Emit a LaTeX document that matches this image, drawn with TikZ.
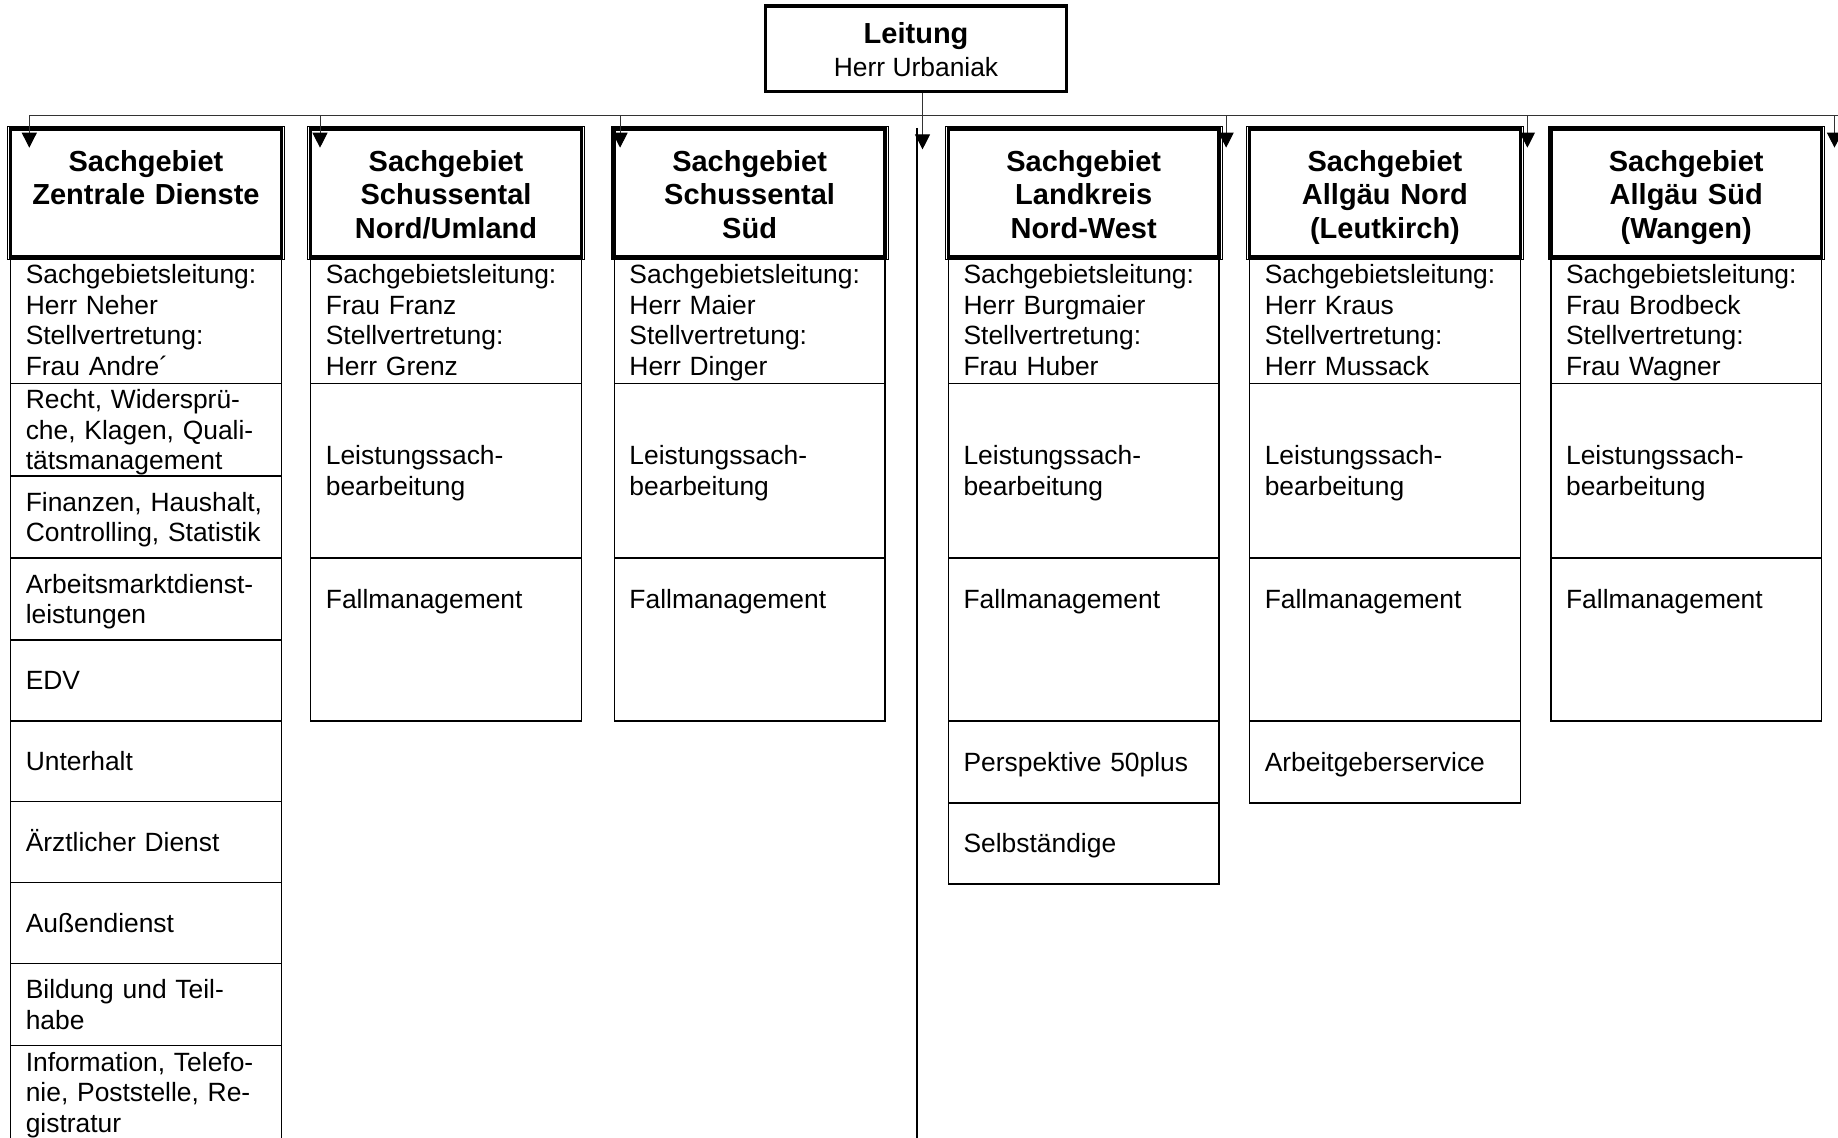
\documentclass[tikz,border=0pt]{standalone}
\usepackage{fontspec}
\setmainfont{Liberation Sans}
\usetikzlibrary{arrows.meta,positioning}
\newdimen\dpx \dpx=0.586pt

\tikzset{
  kopf/.style={draw, line width=1.8pt, outer sep=0pt, inner sep=0pt, text width=231\dpx,
    minimum height=109\dpx, align=center, anchor=north west,
    execute at begin node={\rule{0pt}{15.6pt}}, execute at end node={\rule[-3.5pt]{0pt}{3.5pt}},
    font=\bfseries\fontsize{14.5}{16.7}\selectfont},
  zelle/.style={draw, line width=0.7pt, outer sep=0pt, inner xsep=13\dpx, inner ysep=0pt,
    text width=205\dpx, minimum height=#1\dpx, align=left,
    execute at begin node={\rule{0pt}{12.4pt}}, execute at end node={\rule[-3pt]{0pt}{3pt}},
    font=\fontsize{13.2}{15.25}\selectfont},
  pfeil/.style={draw=black!80, line width=0.5pt, -{Triangle[length=7.5pt,width=7.5pt,color=black]}},
  bus/.style={draw=black!80, line width=0.5pt}
}

\begin{document}
\begin{tikzpicture}[x=0.586pt, y=-0.586pt]
\useasboundingbox (0,0) rectangle (1568,970);

\node[draw, line width=1.7pt, minimum width=257\dpx, minimum height=73\dpx, align=center,
  font=\fontsize{13.2}{16.4}\selectfont] (leitung) at (781.5,41.5)
  {{\bfseries\fontsize{14.5}{16.4}\selectfont\rule{0pt}{14.5pt}Leitung}\\Herr Urbaniak\rule[-3.5pt]{0pt}{3.5pt}};

% Sachgebiete
\node[kopf] (k1) at (9,110) {Sachgebiet\\Zentrale Dienste\\\mbox{}};
\node[kopf] (k2) at (265,110) {Sachgebiet\\Schussental\\Nord/Umland};
\node[kopf] (k3) at (524,110) {Sachgebiet\\Schussental\\Süd};
\node[kopf] (k4) at (809,110) {Sachgebiet\\Landkreis\\Nord-West};
\node[kopf] (k5) at (1066,110) {Sachgebiet\\Allgäu Nord\\(Leutkirch)};
\node[kopf] (k6) at (1323,110) {Sachgebiet\\Allgäu Süd\\(Wangen)};
\foreach \i in {1,...,6}
  \draw[line width=0.4pt] ([shift={(-2.5,-2.5)}]k\i.north west) rectangle ([shift={(2.5,2.5)}]k\i.south east);

% Zentrale Dienste
\node[zelle=108, below=0pt of k1] (z1) {Sachgebietsleitung:\\Herr Neher\\Stellvertretung:\\Frau Andre´};
\node[zelle=79, below=0pt of z1] (z2) {Recht, Widersprü-\\che, Klagen, Quali-\\tätsmanagement};
\node[zelle=70, below=0pt of z2] (z3) {Finanzen, Haushalt,\\Controlling, Statistik};
\node[zelle=70, below=0pt of z3] (z4) {Arbeitsmarktdienst-\\leistungen};
\node[zelle=69, below=0pt of z4] (z5) {EDV};
\node[zelle=69, below=0pt of z5] (z6) {Unterhalt};
\node[zelle=69, below=0pt of z6] (z7) {Ärztlicher Dienst};
\node[zelle=69, below=0pt of z7] (z8) {Außendienst};
\node[zelle=70, below=0pt of z8] (z9) {Bildung und Teil-\\habe};
\node[zelle=80, below=0pt of z9] (z10) {Information, Telefo-\\nie, Poststelle, Re-\\gistratur};

% die anderen Sachgebiete
\foreach \i/\sgl/\stv in {2/Frau Franz/Herr Grenz, 3/Herr Maier/Herr Dinger,
    4/Herr Burgmaier/Frau Huber, 5/Herr Kraus/Herr Mussack, 6/Frau Brodbeck/Frau Wagner}{
  \node[zelle=108, below=0pt of k\i] (l\i) {Sachgebietsleitung:\\\sgl\\Stellvertretung:\\\stv};
  \node[zelle=149, below=0pt of l\i] (b\i) {Leistungssach-\\bearbeitung};
  \node[zelle=139, below=0pt of b\i, text height=12pt, text depth=42.8pt] (f\i) {Fallmanagement};
}
\node[zelle=70, below=0pt of f4] (p4) {Perspektive 50plus};
\node[zelle=69, below=0pt of p4] (s4) {Selbständige};
\node[zelle=70, below=0pt of f5] (a5) {Arbeitgeberservice};

% Verbindungen
\coordinate (bus) at ([shift={(0,19)}]leitung.south);
\coordinate (mitte) at ([shift={(5.5,48)}]leitung.south);
\foreach \i/\dx in {1/16, 2/8, 3/5}
  \coordinate (t\i) at ([shift={(\dx,16)}]k\i.north west);
\foreach \i/\dx in {4/6, 5/6, 6/11}
  \coordinate (t\i) at ([shift={(\dx,16)}]k\i.north east);
\draw[bus] (t1 |- bus) -- (t6 |- bus) -- ++(10,0);
\foreach \i in {1,...,6}
  \draw[pfeil] (t\i |- bus) -- (t\i);
\draw[pfeil] (leitung.south -| mitte) -- (mitte);
\draw[line width=0.9pt] ([shift={(-27,-1)}]k4.north west) -- ++(0,870);
\end{tikzpicture}
\end{document}
